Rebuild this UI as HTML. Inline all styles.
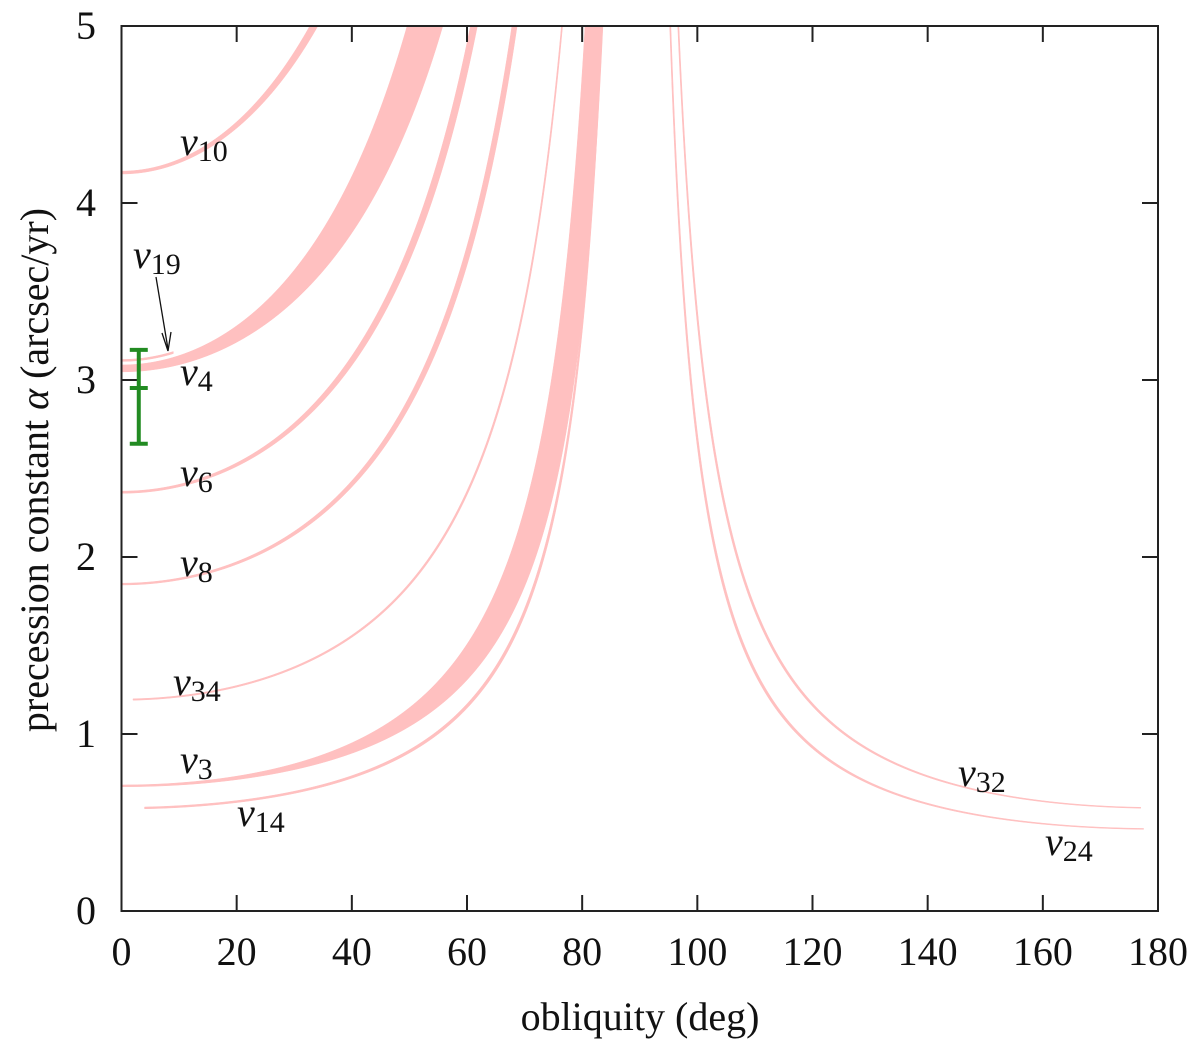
<!DOCTYPE html>
<html><head><meta charset="utf-8"><style>
body{margin:0;background:#fff}
svg text{font-family:"Liberation Serif",serif;fill:#111}
</style></head><body>
<svg id="chart" width="1200" height="1045" viewBox="0 0 1200 1045" xmlns="http://www.w3.org/2000/svg">
<defs><clipPath id="clip"><rect x="121.5" y="26" width="1036.5" height="885"/></clipPath></defs>
<g id="bands" clip-path="url(#clip)"></g>
<g id="frame"></g>
<g id="labels"></g>
</svg>
<script>
// ---- data ----
const bandNames = ["nu10","nu19","nu4","nu6","nu8","nu34","nu3","nu14","nu32","nu24"];
const bandRetro = [false,false,false,false,false,false,false,false,true,true];
const bandA0Lo  = [4.164,3.105,3.046,2.360,1.842,1.190,0.702,0.576,0.580,0.461];
const bandA0Hi  = [4.180,3.116,3.085,2.372,1.852,1.198,0.712,0.586,0.585,0.466];
const bandEps5Lo= [34.1,48.8,55.8,61.8,68.7,76.6,83.6,83.5,96.6,95.2];
const bandEps5Hi= [32.7,48.4,49.6,60.6,67.8,76.4,80.5,83.3,96.8,95.4];
const bandStart = [0,0,0,0,0,2,0,4,0,0];
const bandEnd   = [90,9,90,90,90,90,90,90,177,177.5];
const xTicks = [0,20,40,60,80,100,120,140,160,180];
const yTicks = [0,1,2,3,4,5];
const errX = 3;
const errTop = 3.17, errMid = 2.955, errBot = 2.64;
const lblText = ["10","19","4","6","8","34","3","14","32","24"];
const lblPos = [[180,147],[133,260],[180,377],[180,478],[180,568],[173,687],[180,765],[237,818],[958,778],[1045,847]];

const X0=121.5, X1=1158, Y0=911, Y1=26;
const xs = e => X0 + e/180*(X1-X0);
const ys = a => Y0 - a/5*(Y0-Y1);
const NS="http://www.w3.org/2000/svg";
function mk(tag, attrs, parent){const el=document.createElementNS(NS,tag);for(const k in attrs)el.setAttribute(k,attrs[k]);parent.appendChild(el);return el;}

function edge(a0, eps5, retro, start, end){
  const c5 = Math.cos(eps5*Math.PI/180)*(retro?-1:1);
  const p = Math.log(a0/5)/Math.log(Math.abs(c5));
  const pts=[];
  const N=300;
  for(let i=0;i<=N;i++){
    const a = a0 + (5.3-a0)*Math.pow(i/N,1.5);
    let c = Math.pow(a0/a,1/p);
    if(c>1)c=1;
    let e = Math.acos(c)*180/Math.PI;
    if(retro) e = 180-e;
    if(!retro && (e<start || e>end)) continue;
    if(retro && e>end) continue;
    pts.push([xs(e),ys(a)]);
  }
  if(!retro && start>0){const c=Math.cos(start*Math.PI/180);pts.unshift([xs(start),ys(a0/Math.pow(c,p))]);}
  if(!retro && end<90){const c=Math.cos(end*Math.PI/180);pts.push([xs(end),ys(a0/Math.pow(c,p))]);}
  if(retro){const c=Math.abs(Math.cos(end*Math.PI/180));pts.unshift([xs(end),ys(a0/Math.pow(c,p))]);}
  return pts;
}
const gB=document.getElementById('bands');
for(let i=0;i<bandNames.length;i++){
  const lo=edge(bandA0Lo[i],bandEps5Lo[i],bandRetro[i],bandStart[i],bandEnd[i]);
  const hi=edge(bandA0Hi[i],bandEps5Hi[i],bandRetro[i],bandStart[i],bandEnd[i]);
  const pts=hi.concat(lo.slice().reverse());
  const path=mk('path',{d:'M'+pts.map(p=>p[0].toFixed(2)+','+p[1].toFixed(2)).join('L')+'Z',fill:'#ffc0c0',stroke:'#ffc0c0','stroke-width':'0.5'},gB);
  
  
}
const gF=document.getElementById('frame');
const fr=mk('rect',{x:X0,y:Y1,width:X1-X0,height:Y0-Y1,fill:'none',stroke:'#222','stroke-width':'2'},gF);


xTicks.forEach(t=>{
  const x=xs(t);
  mk('line',{x1:x,y1:Y0,x2:x,y2:Y0-16,stroke:'#222','stroke-width':'2'},gF);
  mk('line',{x1:x,y1:Y1,x2:x,y2:Y1+16,stroke:'#222','stroke-width':'2'},gF);
  const tx=mk('text',{x:x,y:965,'font-size':'40','text-anchor':'middle'},gF);
  tx.textContent=t;
  
  
});
yTicks.forEach(t=>{
  const y=ys(t);
  mk('line',{x1:X0,y1:y,x2:X0+16,y2:y,stroke:'#222','stroke-width':'2'},gF);
  mk('line',{x1:X1,y1:y,x2:X1-16,y2:y,stroke:'#222','stroke-width':'2'},gF);
  const tx=mk('text',{x:96,y:y+13,'font-size':'40','text-anchor':'end'},gF);
  tx.textContent=t;
  
  
});
const xt=mk('text',{x:640,y:1030,'font-size':'40','text-anchor':'middle'},gF);
xt.textContent='obliquity (deg)';


const yt=mk('text',{x:0,y:0,'font-size':'40','text-anchor':'middle',transform:'translate(48,470) rotate(-90)'},gF);
yt.innerHTML='precession constant <tspan font-style="italic">α</tspan> (arcsec/yr)';



// error bar
const gE=mk('g',{},gF);


const ex=xs(errX);
mk('line',{x1:ex,y1:ys(errTop),x2:ex,y2:ys(errBot),stroke:'#228b22','stroke-width':'4'},gE);
[errTop,errMid,errBot].forEach(v=>mk('line',{x1:ex-9,y1:ys(v),x2:ex+9,y2:ys(v),stroke:'#228b22','stroke-width':'4'},gE));

// labels
const gL=document.getElementById('labels');
lblText.forEach((s,i)=>{
  const t=mk('text',{x:lblPos[i][0],y:lblPos[i][1]+8,'font-size':'40'},gL);
  t.innerHTML='<tspan font-style="italic">ν</tspan><tspan font-size="30" dy="6">'+s+'</tspan>';
  
  
});
// arrow for nu19
const ar=mk('g',{},gL);


mk('line',{x1:156,y1:277,x2:168,y2:349,stroke:'#111','stroke-width':'1.3'},ar);
mk('path',{d:'M168,351 L162,333 M168,351 L171,332',stroke:'#111','stroke-width':'1.3',fill:'none'},ar);
</script>
</body></html>
